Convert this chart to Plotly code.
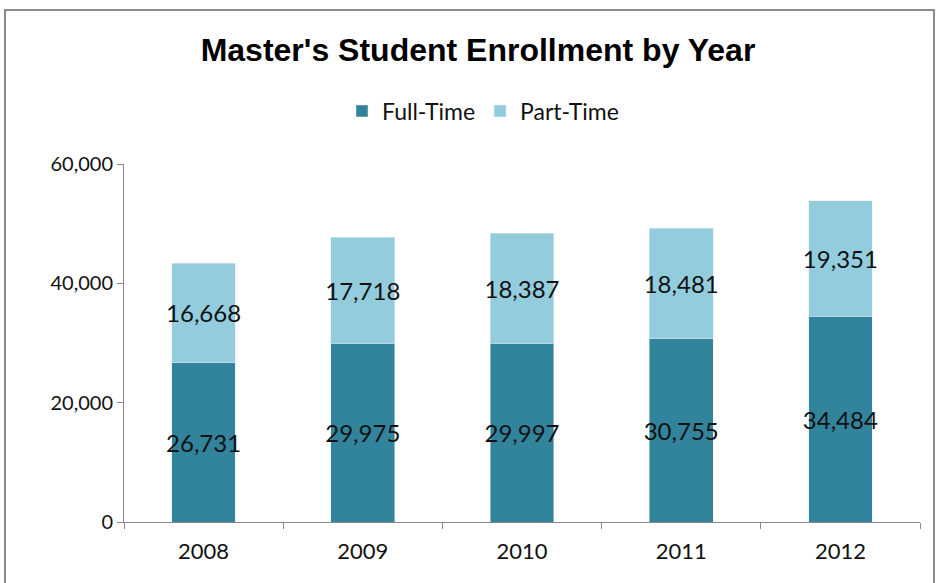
import plotly.graph_objects as go

years = ["2008", "2009", "2010", "2011", "2012"]
full_time = [26731, 29975, 29997, 30755, 34484]
part_time = [16668, 17718, 18387, 18481, 19351]
y_ticks = [0, 20000, 40000, 60000]
y_tick_labels = ["0", "20,000", "40,000", "60,000"]

FONT = "Lato, Open Sans, sans-serif"
LABEL_SIZE = 24

fig = go.Figure()
fig.add_trace(go.Bar(
    x=years, y=full_time, name="Full-Time",
    marker=dict(color="#31849B"),
    text=[f"{v:,}" for v in full_time], textposition="inside",
    insidetextanchor="middle", textangle=0,
    textfont=dict(family=FONT, size=LABEL_SIZE, color="#111111"),
))
fig.add_trace(go.Bar(
    x=years, y=part_time, name="Part-Time",
    marker=dict(color="#93CDDD"),
    text=[f"{v:,}" for v in part_time], textposition="inside",
    insidetextanchor="middle", textangle=0,
    textfont=dict(family=FONT, size=LABEL_SIZE, color="#111111"),
))

L, R, T, B = 124, 18, 164, 61
W, H = 938, 583
pw, ph = W - L - R, H - T - B

fig.update_layout(
    width=W, height=H,
    barmode="stack", bargap=0.6,
    margin=dict(l=L, r=R, t=T, b=B, autoexpand=False),
    paper_bgcolor="white", plot_bgcolor="white",
    title=dict(text="<b>Master's Student Enrollment by Year</b>",
               x=478 / W, xanchor="center", y=1 - 50 / H, yanchor="middle",
               font=dict(family="Liberation Sans, Arial, sans-serif", size=32, color="#000000")),
    legend=dict(orientation="h", x=(483 - L) / pw, xanchor="center", y=(H - B - 111) / ph, yanchor="middle",
                font=dict(family=FONT, size=23, color="#111111"),
                traceorder="normal", itemwidth=30),
    showlegend=True,
    uniformtext=dict(mode="show", minsize=LABEL_SIZE),
    xaxis=dict(showline=True, linecolor="#888888", linewidth=1,
               ticks="outside", tickson="boundaries", ticklen=6, tickcolor="#888888",
               ticklabelstandoff=10,
               tickfont=dict(family=FONT, size=22, color="#111111"),
               showgrid=False),
    yaxis=dict(range=[0, 60000], tickvals=y_ticks, ticktext=y_tick_labels,
               showline=True, linecolor="#888888", linewidth=1,
               ticks="outside", ticklen=6, tickcolor="#888888",
               tickfont=dict(family=FONT, size=20, color="#111111"),
               showgrid=False, zeroline=False),
)

# outer chart border
fig.add_shape(type="rect", xref="paper", yref="paper",
              x0=(5 - L) / pw, x1=(934 - L) / pw,
              y0=(H - B - 600) / ph, y1=(H - B - 10) / ph,
              line=dict(color="#8c8c8c", width=2), fillcolor="rgba(0,0,0,0)", layer="below")

fig.write_html("out.html", config={"displayModeBar": False},
               post_script="document.body.style.margin='0';document.body.style.overflow='hidden';")
